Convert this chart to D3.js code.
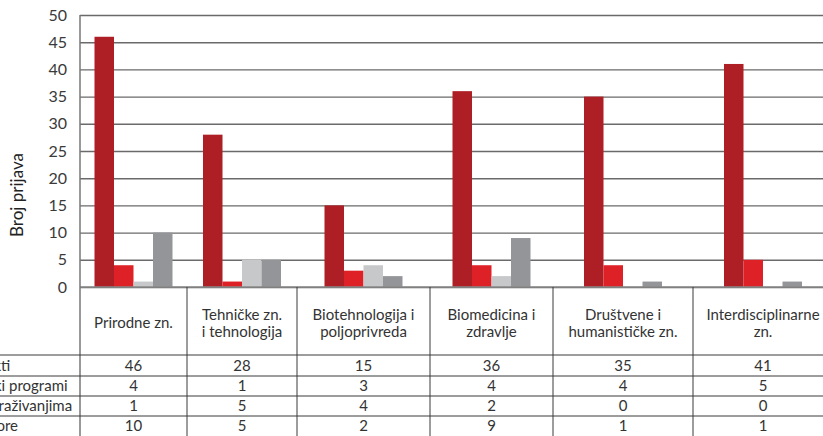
<!DOCTYPE html>
<html>
<head>
<meta charset="utf-8">
<script src="https://cdn.jsdelivr.net/npm/d3@7"></script>
<style>
  body { margin: 0; background: #fff; font-family: Lato, "Open Sans", sans-serif; }
  svg { display: block; }
</style>
</head>
<body>
<svg id="chart"></svg>
<script>
// podaci
const categories = ["Prirodne zn.", "Tehničke zn.\ni tehnologija", "Biotehnologija i\npoljoprivreda",
  "Biomedicina i\nzdravlje", "Društvene i\nhumanističke zn.", "Interdisciplinarne\nzn."];
const seriesNames = ["Istraživački projekti", "Razvoj karijera i istraživački programi",
  "Suradnja s industrijom u istraživanjima", "Stručnjaci iz dijaspore"];
const projekti = [46, 28, 15, 36, 35, 41];
const programi = [4, 1, 3, 4, 4, 5];
const istrazivanja = [1, 5, 4, 2, 0, 0];
const dijaspora = [10, 5, 2, 9, 1, 1];
const yTickValues = [0, 5, 10, 15, 20, 25, 30, 35, 40, 45, 50];

const seriesValues = [projekti, programi, istrazivanja, dijaspora];
const colors = ["#ae1e25", "#de2027", "#c7c8ca", "#939598"];

const width = 823, height = 436;
const plotLeft = 80, plotTop = 15, base = 287;
const colWidths = [107, 110, 133, 123, 140, 140]; // sirine stupaca tablice
const rowH = 20, headBottom = 355;
const labelCenter = -53; // stupac s nazivima redova je vecinom izvan slike
const fs = 15;

const svg = d3.select("#chart").attr("width", width).attr("height", height);

const y = d3.scaleLinear().domain([0, 50]).range([base, plotTop]);

// rubovi stupaca
const edges = [plotLeft, ...d3.cumsum(colWidths).map(v => v + plotLeft)];
const colLeft = d3.scaleOrdinal().domain(categories).range(edges.slice(0, -1));
const colRight = d3.scaleOrdinal().domain(categories).range(edges.slice(1));
const colCenter = c => (colLeft(c) + colRight(c)) / 2;

const inner = d3.scaleBand().domain(d3.range(4)).range([0, 78]);

// mreza
svg.append("g")
  .attr("transform", `translate(${plotLeft},0)`)
  .call(d3.axisLeft(y).tickValues(yTickValues).tickSize(-(width - plotLeft)).tickFormat(""))
  .call(g => g.select(".domain").remove())
  .call(g => g.selectAll(".tick line").attr("stroke", "#6a6a6a").attr("stroke-width", 1.4));

// os y
svg.append("g")
  .attr("transform", `translate(${plotLeft},0)`)
  .call(d3.axisLeft(y).tickValues(yTickValues).tickSize(0).tickPadding(13))
  .call(g => g.select(".domain").remove())
  .call(g => g.selectAll("text").attr("font-size", 16).attr("fill", "#3a3a3a")
    .attr("font-family", "Lato, sans-serif"));

svg.append("text")
  .attr("transform", `translate(23,195) rotate(-90)`)
  .attr("text-anchor", "middle")
  .attr("font-size", 17)
  .attr("fill", "#222")
  .text("Broj prijava");

// stupci
const bars = [];
seriesValues.forEach((vals, s) => vals.forEach((v, i) => bars.push({ s, cat: categories[i], v })));

svg.append("g")
  .selectAll("rect")
  .data(bars)
  .join("rect")
    .attr("x", d => colCenter(d.cat) - 39 + inner(d.s))
    .attr("width", inner.bandwidth())
    .attr("y", d => y(d.v))
    .attr("height", d => y(0) - y(d.v))
    .attr("fill", d => colors[d.s]);

// tablica
const lineCol = "#3a3a3a";
svg.append("line").attr("x1", plotLeft).attr("x2", width).attr("y1", base).attr("y2", base)
  .attr("stroke", "#888").attr("stroke-width", 1.5);
svg.append("line").attr("x1", plotLeft).attr("x2", plotLeft).attr("y1", plotTop).attr("y2", height)
  .attr("stroke", "#777").attr("stroke-width", 1.5);

svg.append("g")
  .selectAll("line")
  .data(edges.slice(1))
  .join("line")
    .attr("x1", d => d).attr("x2", d => d)
    .attr("y1", base).attr("y2", height)
    .attr("stroke", lineCol).attr("stroke-width", 1);

svg.append("g")
  .selectAll("line")
  .data(d3.range(4))
  .join("line")
    .attr("x1", 0).attr("x2", width)
    .attr("y1", i => headBottom + i * rowH + (i > 0 ? 1 : 0))
    .attr("y2", i => headBottom + i * rowH + (i > 0 ? 1 : 0))
    .attr("stroke", lineCol).attr("stroke-width", 1);

// zaglavlje
categories.forEach(c => {
  const lines = c.split("\n");
  const t = svg.append("text")
    .attr("text-anchor", "middle")
    .attr("font-size", fs)
    .attr("fill", "#333");
  lines.forEach((l, k) => {
    t.append("tspan")
      .attr("x", colCenter(c))
      .attr("y", 328 + (k - (lines.length - 1) / 2) * 17)
      .text(l);
  });
});

// redovi
seriesNames.forEach((name, r) => {
  const cy = headBottom + r * rowH + rowH / 2 + 5.5;
  svg.append("text")
    .attr("x", labelCenter).attr("y", cy)
    .attr("text-anchor", "middle")
    .attr("font-size", fs).attr("fill", "#333")
    .text(name);
  svg.append("g")
    .selectAll("text")
    .data(seriesValues[r])
    .join("text")
      .attr("x", (d, i) => colCenter(categories[i]))
      .attr("y", cy)
      .attr("text-anchor", "middle")
      .attr("font-size", fs).attr("fill", "#333")
      .text(d => d);
});
</script>
</body>
</html>
